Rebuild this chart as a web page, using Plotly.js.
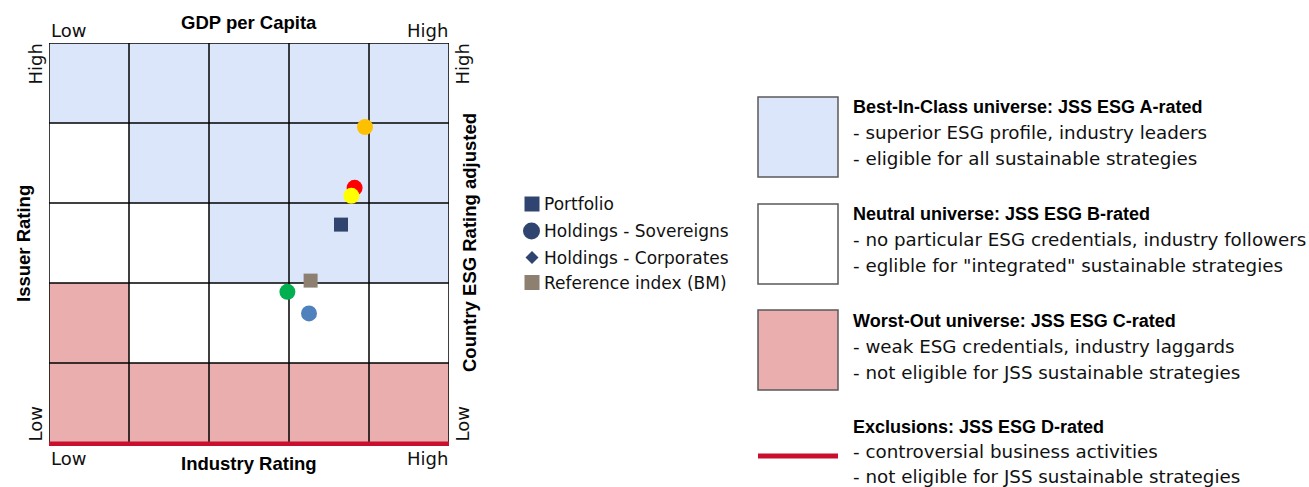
<!DOCTYPE html>
<html>
<head>
<meta charset="utf-8">
<script src="https://cdn.plot.ly/plotly-3.0.1.min.js"></script>
<style>
  html, body { margin: 0; padding: 0; background: #ffffff; }
  #chart { width: 1309px; height: 487px; }
</style>
</head>
<body>
<div id="chart"></div>
<script>
// ---------------- data ----------------
const gridLevels = [0, 1, 2, 3, 4, 5];
// ESG class of each cell, rows from bottom (Low issuer rating) to top (High)
const cellClassRow1 = ['C', 'C', 'C', 'C', 'C'];
const cellClassRow2 = ['C', 'B', 'B', 'B', 'B'];
const cellClassRow3 = ['B', 'B', 'A', 'A', 'A'];
const cellClassRow4 = ['B', 'A', 'A', 'A', 'A'];
const cellClassRow5 = ['A', 'A', 'A', 'A', 'A'];
const cellRows = [cellClassRow1, cellClassRow2, cellClassRow3, cellClassRow4, cellClassRow5];

const portfolioX = [3.65];
const portfolioY = [2.73];
const benchmarkX = [3.27];
const benchmarkY = [2.03];
const sovereignX = [3.95, 3.82, 3.78, 2.98, 3.25];
const sovereignY = [3.95, 3.19, 3.09, 1.89, 1.62];
const sovereignColors = ['#FFC000', '#FF0000', '#FFFF00', '#00B050', '#4F81BD'];

const legendLabels = ['Portfolio', 'Holdings - Sovereigns', 'Holdings - Corporates', 'Reference index (BM)'];

const classHeadings = [
  'Best-In-Class universe: JSS ESG A-rated',
  'Neutral universe: JSS ESG B-rated',
  'Worst-Out universe: JSS ESG C-rated',
  'Exclusions: JSS ESG D-rated'
];
const classLines1 = [
  '- superior ESG profile, industry leaders',
  '- no particular ESG credentials, industry followers',
  '- weak ESG credentials, industry laggards',
  '- controversial business activities'
];
const classLines2 = [
  '- eligible for all sustainable strategies',
  '- eglible for "integrated" sustainable strategies',
  '- not eligible for JSS sustainable strategies',
  '- not eligible for JSS sustainable strategies'
];

const axisTop = 'GDP per Capita';
const axisBottom = 'Industry Rating';
const axisLeft = 'Issuer Rating';
const axisRight = 'Country ESG Rating adjusted';
const lowLabel = 'Low';
const highLabel = 'High';

// ---------------- styles ----------------
const classColors = { A: '#DCE6FA', B: '#FFFFFF', C: '#EBAEAE' };
const navy = '#2F4570';
const tan = '#8D8070';
const exclRed = '#C8102E';
const bodyFont = 'DejaVu Sans, Verdana, sans-serif';
const boldFont = 'Liberation Sans, Arial, sans-serif';

// plot area in pixels
const L = 49, T = 43, W = 400, H = 400;
const fx = p => (p - L) / W;          // pixel x -> paper x
const fy = p => (T + H - p) / H;      // pixel y -> paper y

const shapes = [];
const annotations = [];

// cells
cellRows.forEach((row, r) => {
  row.forEach((cls, c) => {
    shapes.push({
      type: 'rect', xref: 'x', yref: 'y', layer: 'below',
      x0: gridLevels[c], x1: gridLevels[c + 1], y0: gridLevels[r], y1: gridLevels[r + 1],
      fillcolor: classColors[cls], line: { width: 0 }
    });
  });
});
// grid lines
gridLevels.forEach(v => {
  shapes.push({ type: 'line', xref: 'x', yref: 'y', layer: 'below',
    x0: v, x1: v, y0: gridLevels[0], y1: gridLevels[gridLevels.length - 1],
    line: { color: '#000000', width: 1.5 } });
  shapes.push({ type: 'line', xref: 'x', yref: 'y', layer: 'below',
    x0: gridLevels[0], x1: gridLevels[gridLevels.length - 1], y0: v, y1: v,
    line: { color: '#000000', width: 1.5 } });
});
// exclusion line along the bottom (paper coords so it is not clipped)
shapes.push({ type: 'line', xref: 'paper', yref: 'paper', layer: 'above',
  x0: 0, x1: 1, y0: fy(443.8), y1: fy(443.8),
  line: { color: exclRed, width: 4.5 } });

// ---------- axis annotations ----------
function ann(text, x, y, opts) {
  annotations.push(Object.assign({
    text: text, xref: 'paper', yref: 'paper', x: fx(x), y: fy(y),
    showarrow: false, xanchor: 'center', yanchor: 'middle',
    font: { family: bodyFont, size: 18, color: '#111111' }
  }, opts || {}));
}
const boldF = (s) => ({ family: boldFont, size: s, color: '#000000' });

ann('<b>' + axisTop + '</b>', 249, 23, { font: boldF(18.5) });
ann(lowLabel, 49, 31, { xanchor: 'left' });
ann(highLabel, 450, 31, { xanchor: 'right' });
ann('<b>' + axisBottom + '</b>', 249, 463, { font: boldF(18.5) });
ann(lowLabel, 49, 458, { xanchor: 'left' });
ann(highLabel, 450, 458, { xanchor: 'right' });
ann(highLabel, 35, 42, { textangle: -90, yanchor: 'top' });
ann(lowLabel, 35, 444, { textangle: -90, yanchor: 'bottom' });
ann('<b>' + axisLeft + '</b>', 24, 244, { textangle: -90, font: boldF(18.5) });
ann(highLabel, 462, 42, { textangle: -90, yanchor: 'top' });
ann(lowLabel, 462, 444, { textangle: -90, yanchor: 'bottom' });
ann('<b>' + axisRight + '</b>', 469, 243, { textangle: -90, font: boldF(18.5) });

// ---------- middle legend ----------
const legY = [204, 231, 257.5, 282.5];
const legX = 532;
shapes.push({ type: 'rect', xref: 'paper', yref: 'paper', layer: 'above',
  x0: fx(legX - 7.5), x1: fx(legX + 7.5), y0: fy(legY[0] + 7.5), y1: fy(legY[0] - 7.5),
  fillcolor: navy, line: { width: 0 } });
shapes.push({ type: 'circle', xref: 'paper', yref: 'paper', layer: 'above',
  x0: fx(legX - 9), x1: fx(legX + 8), y0: fy(legY[1] + 8.5), y1: fy(legY[1] - 8.5),
  fillcolor: navy, line: { width: 0 } });
shapes.push({ type: 'path', xref: 'paper', yref: 'paper', layer: 'above',
  path: 'M ' + fx(legX - 6.5) + ' ' + fy(legY[2]) + ' L ' + fx(legX) + ' ' + fy(legY[2] - 6.5) +
        ' L ' + fx(legX + 6.5) + ' ' + fy(legY[2]) + ' L ' + fx(legX) + ' ' + fy(legY[2] + 6.5) + ' Z',
  fillcolor: navy, line: { width: 0 } });
shapes.push({ type: 'rect', xref: 'paper', yref: 'paper', layer: 'above',
  x0: fx(legX - 7.5), x1: fx(legX + 7.5), y0: fy(legY[3] + 7.5), y1: fy(legY[3] - 7.5),
  fillcolor: tan, line: { width: 0 } });
legendLabels.forEach((t, i) => {
  ann(t, 542, legY[i], { xanchor: 'left', font: { family: bodyFont, size: 17, color: '#111111' } });
});

// ---------- right legend ----------
const boxTop = [97, 204, 310];
const boxFill = [classColors.A, classColors.B, classColors.C];
boxTop.forEach((t, i) => {
  shapes.push({ type: 'rect', xref: 'paper', yref: 'paper', layer: 'above',
    x0: fx(758), x1: fx(838), y0: fy(t + 80), y1: fy(t),
    fillcolor: boxFill[i], line: { color: '#5a5a5a', width: 1.5 } });
});
shapes.push({ type: 'line', xref: 'paper', yref: 'paper', layer: 'above',
  x0: fx(758), x1: fx(838), y0: fy(456), y1: fy(456),
  line: { color: exclRed, width: 5 } });

const headY = [107, 214, 321, 427];
const lineGap = [25.5, 25.5, 25.5, 24.5];
classHeadings.forEach((h, i) => {
  ann('<b>' + h + '</b>', 851, headY[i], { xanchor: 'left', font: boldF(18) });
  ann(classLines1[i], 851, headY[i] + lineGap[i], { xanchor: 'left', font: { family: bodyFont, size: 18.3, color: '#111111' } });
  ann(classLines2[i], 851, headY[i] + 2 * lineGap[i], { xanchor: 'left', font: { family: bodyFont, size: 18.3, color: '#111111' } });
});

// ---------- traces ----------
const traces = [
  { type: 'scatter', mode: 'markers', name: legendLabels[1], x: sovereignX, y: sovereignY,
    marker: { symbol: 'circle', size: 16, color: sovereignColors, line: { width: 0 } },
    showlegend: false, hoverinfo: 'skip' },
  { type: 'scatter', mode: 'markers', name: legendLabels[3], x: benchmarkX, y: benchmarkY,
    marker: { symbol: 'square', size: 14, color: tan, line: { width: 0 } },
    showlegend: false, hoverinfo: 'skip' },
  { type: 'scatter', mode: 'markers', name: legendLabels[0], x: portfolioX, y: portfolioY,
    marker: { symbol: 'square', size: 14, color: navy, line: { width: 0 } },
    showlegend: false, hoverinfo: 'skip' }
];

const layout = {
  width: 1309, height: 487,
  margin: { l: L, t: T, r: 1309 - L - W, b: 487 - T - H, pad: 0 },
  paper_bgcolor: '#ffffff', plot_bgcolor: '#ffffff',
  showlegend: false,
  xaxis: { range: [gridLevels[0], gridLevels[gridLevels.length - 1]], visible: false, fixedrange: true },
  yaxis: { range: [gridLevels[0], gridLevels[gridLevels.length - 1]], visible: false, fixedrange: true },
  shapes: shapes,
  annotations: annotations
};

Plotly.newPlot('chart', traces, layout, { displayModeBar: false, staticPlot: true });
</script>
</body>
</html>
